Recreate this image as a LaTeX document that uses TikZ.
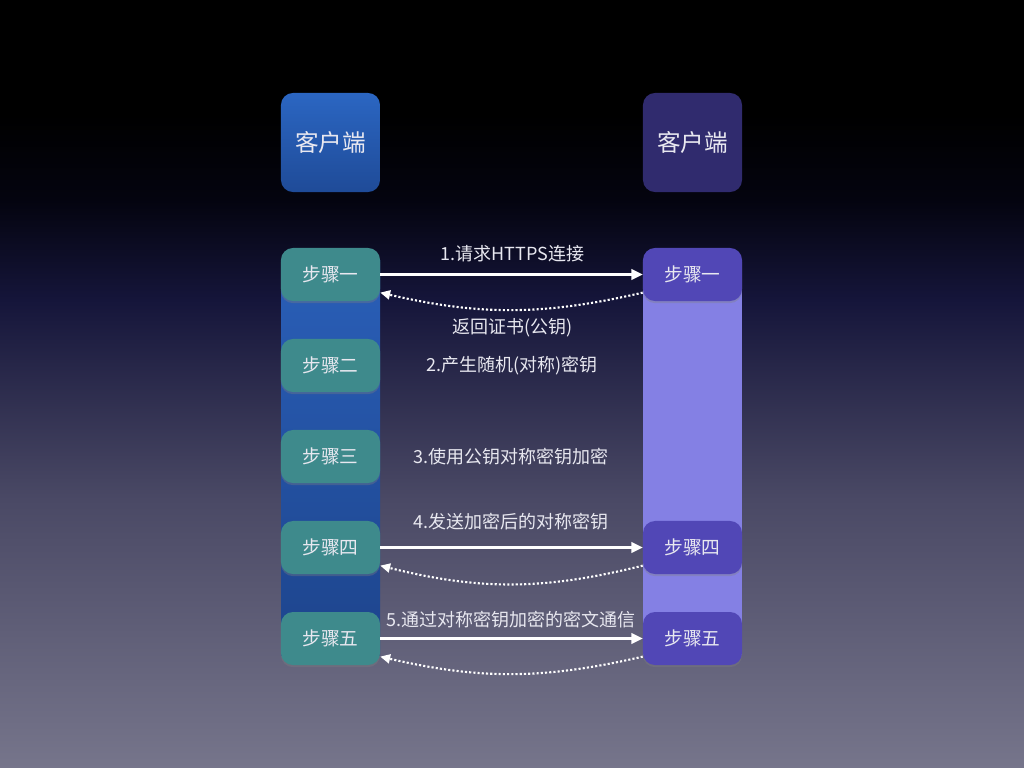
\documentclass[tikz,border=0pt]{standalone}
\usepackage{fontspec}
\setmainfont{Noto Sans CJK SC}
\usetikzlibrary{arrows.meta,shadows}
\definecolor{txt}{HTML}{E8E8F0}
\definecolor{skyA}{HTML}{76758B}
\definecolor{skyB}{HTML}{4A4965}
\definecolor{skyC}{HTML}{15153A}
\definecolor{skyD}{HTML}{04040F}
\definecolor{headTop}{HTML}{2B66C2}
\definecolor{headBot}{HTML}{1F4B98}
\definecolor{headR}{HTML}{302B6E}
\definecolor{barTop}{HTML}{2A5FB8}
\definecolor{barBot}{HTML}{1D448C}
\definecolor{barR}{HTML}{8480E4}
\definecolor{stepL}{HTML}{3E8A8C}
\definecolor{stepR}{HTML}{5147B6}
\pgfdeclareverticalshading{nightsky}{100bp}{color(0bp)=(skyA); color(25bp)=(skyA); color(42.5bp)=(skyB); color(55.5bp)=(skyC); color(62bp)=(skyD); color(67.5bp)=(black); color(100bp)=(black)}

\begin{document}
\begin{tikzpicture}[x=0.025cm,y=-0.025cm,
    header/.style={rounded corners=0.3cm, minimum width=2.475cm, minimum height=2.475cm, inner sep=0pt, text=txt, font=\fontsize{16.8}{18}\selectfont},
    stepbox/.style={rounded corners=0.3cm, minimum width=2.475cm, minimum height=1.325cm, inner sep=0pt, text=txt, font=\fontsize{13.3}{15}\selectfont, drop shadow={opacity=0.35, shadow xshift=0pt, shadow yshift=-1.5pt}},
    client/.style={stepbox, fill=stepL},
    server/.style={stepbox, fill=stepR},
    note/.style={inner sep=0pt, text=txt, font=\fontsize{12.8}{15}\selectfont},
    send/.style={draw=white, line width=1.7pt, -{Triangle[length=8pt,width=7.5pt]}},
    reply/.style={draw=white, line width=1.5pt, dash pattern=on 1.5pt off 1.5pt, -{Triangle[length=7pt,width=6.5pt]}}
  ]
  % background
  \shade[shading=nightsky] (0,0) rectangle (1024,768);
  \useasboundingbox (0,0) rectangle (1024,768);

  % headers
  \node[header, top color=headTop, bottom color=headBot] (hL) at (330.5,142.5) {客户端};
  \node[header, fill=headR] (hR) at (692.5,142.5) {客户端};

  % columns
  \shade[top color=barTop, bottom color=barBot] (281,260) rectangle (380,655);
  \fill[barR] (643,260) rectangle (742,655);

  % steps
  \node[client] (s1L) at (330.5,274.5) {步骤一};
  \node[client] (s2L) at (330.5,365.5) {步骤二};
  \node[client] (s3L) at (330.5,456.5) {步骤三};
  \node[client] (s4L) at (330.5,547.5) {步骤四};
  \node[client] (s5L) at (330.5,638.5) {步骤五};
  \node[server] (s1R) at (692.5,274.5) {步骤一};
  \node[server] (s4R) at (692.5,547.5) {步骤四};
  \node[server] (s5R) at (692.5,638.5) {步骤五};

  % messages
  \node[note] (m1) at (512.5,254) {1.请求HTTPS连接};
  \node[note] (m1b) at (512.5,328) {返回证书(公钥)};
  \node[note] (m2) at (512,366) {2.产生随机(对称)密钥};
  \node[note] (m3) at (511,457) {3.使用公钥对称密钥加密};
  \node[note] (m4) at (511,522) {4.发送加密后的对称密钥};
  \node[note] (m5) at (511,620) {5.通过对称密钥加密的密文通信};

  \draw[send] (s1L.east) -- (s1R.west);
  \draw[reply] (s1R.200) to[bend left=13] (s1L.340);
  \draw[send] (s4L.east) -- (s4R.west);
  \draw[reply] (s4R.200) to[bend left=14] (s4L.340);
  \draw[send] (s5L.east) -- (s5R.west);
  \draw[reply] (s5R.200) to[bend left=13] (s5L.340);
\end{tikzpicture}
\end{document}
